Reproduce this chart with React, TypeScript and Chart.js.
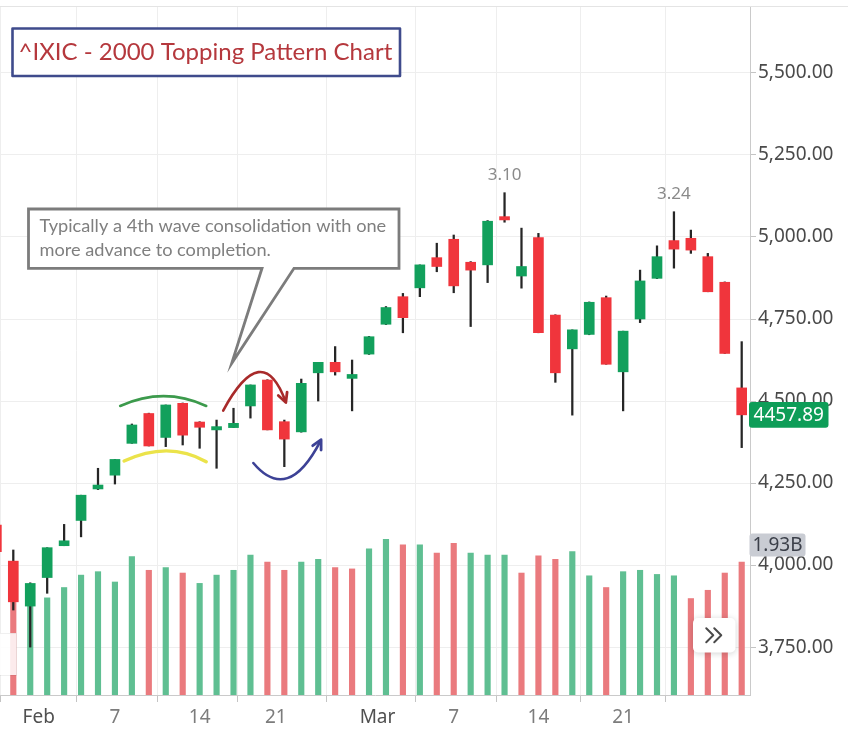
import React, { useEffect, useRef } from "react";
import { Chart, registerables } from "chart.js";

Chart.register(...registerables);

// ---- data (bar index -1 = Jan 27, 0 = Jan 28 2000 ... 43 = Mar 30 2000) ----
const FIRST_INDEX = -1;
const OPEN = [4122, 4012, 3875, 3962, 4059, 4136, 4232, 4274, 4371, 4462, 4389, 4493, 4436, 4412, 4419, 4485, 4564, 4437, 4406, 4586, 4618, 4569, 4643, 4734, 4818, 4845, 4937, 4993, 4923, 4915, 5062, 4881, 4998, 4762, 4659, 4703, 4815, 4589, 4750, 4874, 4989, 4996, 4940, 4862, 4540];
const HIGH = [4135, 4046, 3946, 4053, 4124, 4213, 4295, 4322, 4430, 4463, 4488, 4494, 4437, 4442, 4478, 4549, 4565, 4442, 4567, 4618, 4666, 4625, 4697, 4788, 4828, 4915, 4981, 5006, 4925, 5050, 5135, 5027, 5011, 4763, 4717, 4802, 4820, 4713, 4899, 4973, 5077, 5021, 4950, 4863, 4681];
const LOW = [4035, 3863, 3750, 3914, 4059, 4086, 4230, 4247, 4371, 4363, 4361, 4366, 4356, 4295, 4419, 4448, 4412, 4300, 4405, 4500, 4579, 4470, 4642, 4733, 4708, 4818, 4894, 4830, 4727, 4861, 5045, 4844, 4708, 4557, 4457, 4702, 4612, 4470, 4739, 4873, 4905, 4950, 4833, 4645, 4358];
const CLOSE = [4041, 3888, 3944, 4053, 4074, 4213, 4244, 4322, 4427, 4363, 4488, 4396, 4420, 4422, 4432, 4549, 4412, 4384, 4554, 4618, 4589, 4581, 4696, 4785, 4754, 4915, 4910, 4851, 4899, 5048, 5052, 4910, 4708, 4586, 4717, 4801, 4612, 4713, 4866, 4940, 4963, 4960, 4833, 4645, 4457.89];
// volume in billions of shares
const VOLUME = [1.6, 1.64, 1.6, 1.41, 1.56, 1.74, 1.79, 1.64, 2.01, 1.81, 1.85, 1.77, 1.62, 1.74, 1.81, 2.03, 1.93, 1.81, 1.93, 1.97, 1.85, 1.83, 2.12, 2.26, 2.18, 2.18, 2.06, 2.2, 2.06, 2.03, 2.03, 1.77, 2.02, 1.97, 2.08, 1.73, 1.56, 1.79, 1.81, 1.75, 1.73, 1.4, 1.52, 1.77, 1.93];

const X_TICK_POS = [1.5, 6, 11, 15.5, 21.5, 26, 31, 36];
const X_TICK_LABELS = ["Feb", "7", "14", "21", "Mar", "7", "14", "21"];
const X_TICK_MONTH = [true, false, false, false, true, false, false, false];
const Y_TICKS = [3750, 4000, 4250, 4500, 4750, 5000, 5250, 5500];

const PEAK_LABELS = [
  { idx: 29, text: "3.10" },
  { idx: 39, text: "3.24" },
];

const TITLE = "^IXIC - 2000 Topping Pattern Chart";
const CALLOUT_LINES = ["Typically a 4th wave consolidation with one", "more advance to completion."];

// hand-drawn arcs, in data units: [bar index, price]
const ARCS = [
  { start: [6.31, 4485], mid: [8.87, 4515], end: [11.39, 4485], color: "#3c9a4c", width: 2.6, arrow: false },
  { start: [6.54, 4317], mid: [9.07, 4348], end: [11.39, 4315], color: "#ebe34a", width: 3.4, arrow: false },
  { start: [12.39, 4471], mid: [14.46, 4588], end: [16.06, 4500], color: "#a82a2a", width: 2.6, arrow: true },
  { start: [14.17, 4311], mid: [16.18, 4265], end: [18.13, 4378], color: "#3d4296", width: 2.6, arrow: true },
];

const UP = "#12a05c";
const DOWN = "#f0353c";
const VOL_UP = "#5fbf92";
const VOL_DOWN = "#ea7a7e";
const AXIS_FONT = "'Noto Sans', 'Open Sans', sans-serif";

function fitFont(ctx: CanvasRenderingContext2D, text: string, family: string, target: number) {
  ctx.font = `20px ${family}`;
  const w = ctx.measureText(text).width;
  return (20 * target) / w;
}

const overlayPlugin = {
  id: "overlay",
  afterDatasetsDraw(chart: any) {
    const { ctx, chartArea: ca, scales } = chart;
    const xs = scales.x;
    const ys = scales.y;
    const P = (p: number[]) => ({ x: xs.getPixelForValue(p[0]), y: ys.getPixelForValue(p[1]) });
    ctx.save();

    // arcs
    ARCS.forEach((a) => {
      const s = P(a.start), m = P(a.mid), e = P(a.end);
      const cp = { x: 2 * m.x - (s.x + e.x) / 2, y: 2 * m.y - (s.y + e.y) / 2 };
      ctx.beginPath();
      ctx.moveTo(s.x, s.y);
      ctx.quadraticCurveTo(cp.x, cp.y, e.x, e.y);
      ctx.strokeStyle = a.color;
      ctx.lineWidth = a.width;
      ctx.lineCap = "round";
      ctx.lineJoin = "round";
      ctx.stroke();
      if (a.arrow) {
        const ang = Math.atan2(e.y - cp.y, e.x - cp.x);
        const L = 9;
        ctx.beginPath();
        ctx.moveTo(e.x - L * Math.cos(ang - 0.55), e.y - L * Math.sin(ang - 0.55));
        ctx.lineTo(e.x + 1.5 * Math.cos(ang), e.y + 1.5 * Math.sin(ang));
        ctx.lineTo(e.x - L * Math.cos(ang + 0.55), e.y - L * Math.sin(ang + 0.55));
        ctx.lineWidth = 2.8;
        ctx.stroke();
      }
    });

    // peak labels
    ctx.fillStyle = "#8a8a8a";
    ctx.font = `17px ${AXIS_FONT}`;
    ctx.textAlign = "center";
    ctx.textBaseline = "middle";
    PEAK_LABELS.forEach((p) => {
      const x = xs.getPixelForValue(p.idx);
      const y = ys.getPixelForValue(HIGH[p.idx - FIRST_INDEX]) - 18;
      ctx.fillText(p.text, x, y);
    });

    // title box
    const tx = ca.left + 12.5, ty = ca.top + 22.5, tw = 387.5, th = 47.5;
    ctx.fillStyle = "#ffffff";
    ctx.fillRect(tx, ty, tw, th);
    ctx.strokeStyle = "#3f4b8c";
    ctx.lineWidth = 2.6;
    ctx.strokeRect(tx, ty, tw, th);
    const tsize = fitFont(ctx, TITLE, "Lato", 374);
    ctx.font = `${tsize}px Lato`;
    ctx.fillStyle = "#b5383d";
    ctx.textAlign = "left";
    ctx.fillText(TITLE, tx + 6, ty + th / 2 + 0.5);

    // callout
    const bx0 = ca.left + 28.5, by0 = ca.top + 203, bx1 = ca.left + 399, by1 = ca.top + 262.3;
    ctx.beginPath();
    ctx.moveTo(bx0, by0);
    ctx.lineTo(bx1, by0);
    ctx.lineTo(bx1, by1);
    ctx.lineTo(ca.left + 294, by1);
    ctx.lineTo(ca.left + 231.7, ca.top + 357.3);
    ctx.lineTo(ca.left + 262, by1);
    ctx.lineTo(bx0, by1);
    ctx.closePath();
    ctx.fillStyle = "#ffffff";
    ctx.fill();
    ctx.strokeStyle = "#7c7c7c";
    ctx.lineWidth = 2.8;
    ctx.lineJoin = "miter";
    ctx.stroke();
    const csize = fitFont(ctx, CALLOUT_LINES[0], "Lato", 347);
    ctx.font = `${csize}px Lato`;
    ctx.fillStyle = "#7f7f7f";
    ctx.textAlign = "left";
    ctx.fillText(CALLOUT_LINES[0], ca.left + 39.5, ca.top + 220.5);
    ctx.fillText(CALLOUT_LINES[1], ca.left + 39.5, ca.top + 244);

    ctx.restore();
  },
  afterDraw(chart: any) {
    const { ctx, chartArea: ca, scales } = chart;
    ctx.save();
    // top border line
    ctx.strokeStyle = "#e4e4e4";
    ctx.lineWidth = 1;
    ctx.beginPath();
    ctx.moveTo(0, ca.top + 0.5);
    ctx.lineTo(chart.width, ca.top + 0.5);
    ctx.stroke();

    // left collapsed-legend panel
    ctx.fillStyle = "rgba(255,255,255,0.85)";
    ctx.fillRect(ca.left, ca.bottom - 62, 16.5, 42);
    ctx.strokeStyle = "rgba(0,0,0,0.06)";
    ctx.strokeRect(ca.left - 0.5, ca.bottom - 62 + 0.5, 17, 42);

    // ">>" button
    const bx = ca.right - 57, by = ca.bottom - 77, bw = 42.5, bh = 34.5;
    ctx.save();
    ctx.shadowColor = "rgba(0,0,0,0.18)";
    ctx.shadowBlur = 6;
    ctx.shadowOffsetY = 1;
    ctx.fillStyle = "#ffffff";
    ctx.beginPath();
    (ctx as any).roundRect(bx, by, bw, bh, 5);
    ctx.fill();
    ctx.restore();
    ctx.strokeStyle = "#4a4a4a";
    ctx.lineWidth = 2;
    ctx.lineCap = "round";
    ctx.lineJoin = "round";
    const cx = bx + bw / 2, cy = by + bh / 2;
    [-4.5, 3.5].forEach((dx) => {
      ctx.beginPath();
      ctx.moveTo(cx + dx - 3.5, cy - 7);
      ctx.lineTo(cx + dx + 3.5, cy);
      ctx.lineTo(cx + dx - 3.5, cy + 7);
      ctx.stroke();
    });

    // last price label
    const last = CLOSE[CLOSE.length - 1];
    const py = scales.y.getPixelForValue(last);
    ctx.fillStyle = "#0e9d58";
    ctx.beginPath();
    (ctx as any).roundRect(ca.right - 1, py - 12.8, 79.5, 25.6, 3);
    ctx.fill();
    ctx.fillStyle = "#ffffff";
    ctx.font = `19px ${AXIS_FONT}`;
    ctx.textAlign = "center";
    ctx.textBaseline = "middle";
    ctx.fillText(last.toFixed(2), ca.right - 1 + 39.75, py + 0.5);

    // last volume label
    const lv = VOLUME[VOLUME.length - 1];
    const vy = scales.yv.getPixelForValue(lv) - 17;
    ctx.fillStyle = "#c9ccd3";
    ctx.beginPath();
    (ctx as any).roundRect(ca.right - 0.5, vy - 11.5, 56, 23, 3);
    ctx.fill();
    ctx.fillStyle = "#3c404a";
    ctx.fillText(lv.toFixed(2) + "B", ca.right - 0.5 + 28, vy + 0.5);
    ctx.restore();
  },
};

export default function App() {
  const ref = useRef<HTMLCanvasElement>(null);

  useEffect(() => {
    const xIdx = CLOSE.map((_, i) => FIRST_INDEX + i);
    const volColors = CLOSE.map((c, i) => (i === 0 ? VOL_DOWN : c >= CLOSE[i - 1] ? VOL_UP : VOL_DOWN));
    const bodyColors = CLOSE.map((c, i) => (c >= OPEN[i] ? UP : DOWN));

    const chart = new Chart(ref.current as HTMLCanvasElement, {
      type: "bar",
      data: {
        datasets: [
          {
            label: "Volume",
            data: VOLUME.map((v, i) => ({ x: xIdx[i], y: v })) as any,
            backgroundColor: volColors,
            barThickness: 5.5,
            grouped: false,
            yAxisID: "yv",
            order: 3,
          } as any,
          {
            label: "Wick",
            data: LOW.map((l, i) => ({ x: xIdx[i], y: [l, HIGH[i]] })) as any,
            backgroundColor: "#262626",
            barThickness: 1.6,
            grouped: false,
            yAxisID: "y",
            order: 2,
          } as any,
          {
            label: "Body",
            data: OPEN.map((o, i) => ({ x: xIdx[i], y: [o, CLOSE[i]] })) as any,
            backgroundColor: bodyColors,
            barThickness: 10,
            minBarLength: 2,
            grouped: false,
            yAxisID: "y",
            order: 1,
          } as any,
        ],
      },
      options: {
        responsive: false,
        maintainAspectRatio: false,
        animation: false,
        events: [],
        layout: { padding: { top: 6, left: 0, right: 0, bottom: 0 } },
        plugins: {
          legend: { display: false },
          tooltip: { enabled: false },
          title: { display: false },
        },
        scales: {
          x: {
            type: "linear",
            min: -0.785,
            max: 43.49,
            offset: false,
            afterBuildTicks: (s: any) => {
              s.ticks = X_TICK_POS.map((v) => ({ value: v }));
            },
            afterFit: (s: any) => {
              s.height = 55;
              s.paddingLeft = 0;
              s.paddingRight = 0;
            },
            ticks: {
              autoSkip: false,
              maxRotation: 0,
              padding: 4,
              font: { family: AXIS_FONT, size: 19 },
              color: (c: any) => (X_TICK_MONTH[c.index] ? "#505050" : "#7c7c7c"),
              callback: (v: any, i: number) => X_TICK_LABELS[i] ?? "",
            },
            grid: { color: "#eeeeee", tickLength: 7, tickColor: "#c4c4c4", lineWidth: 1 },
            border: { color: "#cacaca", width: 1 },
          },
          y: {
            type: "linear",
            position: "right",
            min: 3604,
            max: 5704,
            afterBuildTicks: (s: any) => {
              s.ticks = Y_TICKS.map((v) => ({ value: v }));
            },
            afterFit: (s: any) => {
              s.width = 98;
              s.paddingTop = 0;
              s.paddingBottom = 0;
            },
            ticks: {
              padding: 2,
              font: { family: AXIS_FONT, size: 19 },
              color: "#4a4a4a",
              callback: (v: any) =>
                Number(v).toLocaleString("en-US", { minimumFractionDigits: 2, maximumFractionDigits: 2 }),
            },
            grid: { color: "#eeeeee", tickLength: 6, tickColor: "#c4c4c4", lineWidth: 1 },
            border: { color: "#cacaca", width: 1 },
          },
          yv: {
            type: "linear",
            display: false,
            min: 0,
            max: 10,
          },
        } as any,
      },
      plugins: [overlayPlugin],
    });
    return () => chart.destroy();
  }, []);

  return (
    <div style={{ position: "absolute", left: 0, top: 0, width: 848, height: 750, background: "#ffffff" }}>
      <canvas ref={ref} width={848} height={750} style={{ display: "block", width: 848, height: 750 }} />
    </div>
  );
}
